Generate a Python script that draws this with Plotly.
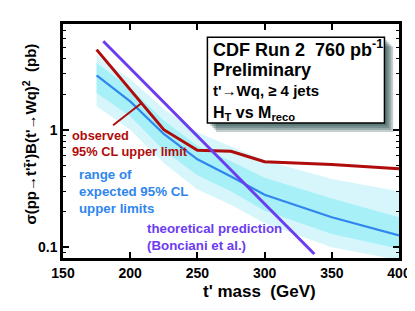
import plotly.graph_objects as go

# ---- data ----
mass = [175, 200, 225, 250, 275, 300, 350, 400]
observed = [4.8, 2.2, 1.0, 0.67, 0.655, 0.535, 0.505, 0.465]
expected = [2.9, 1.74, 0.92, 0.56, 0.40, 0.28, 0.18, 0.126]
exp_1s_up = [3.7, 2.25, 1.2, 0.73, 0.54, 0.39, 0.26, 0.18]
exp_1s_dn = [2.05, 1.3, 0.67, 0.41, 0.30, 0.205, 0.13, 0.097]
exp_2s_up = [4.3, 2.7, 1.5, 0.95, 0.72, 0.55, 0.38, 0.30]
exp_2s_dn = [1.58, 1.0, 0.52, 0.31, 0.23, 0.16, 0.10, 0.078]
mass_th = [180, 200, 225, 250, 275, 300, 325, 337]
theory = [5.65, 3.33, 1.71, 0.88, 0.454, 0.234, 0.12, 0.0877]
x_ticks = [150, 200, 250, 300, 350, 400]

W, H = 415, 311
L, R, T, B = 55, 13.3, 16, 61
PW, PH = W - L - R, H - T - B


def px(x):
    return (x - L) / PW


def py(y):
    return (H - B - y) / PH


RED = "#b00c0c"
BLUE = "#2f86ee"
PURPLE = "#6c3cf0"
INNER = "#a8f0f8"
OUTER = "#d6f6fb"
FONT = "Liberation Sans"

fig = go.Figure()
fig.add_trace(go.Scatter(x=mass, y=exp_2s_dn, mode="lines", line=dict(width=0),
                         hoverinfo="skip", showlegend=False))
fig.add_trace(go.Scatter(x=mass, y=exp_2s_up, mode="lines", line=dict(width=0),
                         fill="tonexty", fillcolor=OUTER, showlegend=False))
fig.add_trace(go.Scatter(x=mass, y=exp_1s_dn, mode="lines", line=dict(width=0),
                         hoverinfo="skip", showlegend=False))
fig.add_trace(go.Scatter(x=mass, y=exp_1s_up, mode="lines", line=dict(width=0),
                         fill="tonexty", fillcolor=INNER, showlegend=False))
fig.add_trace(go.Scatter(x=mass, y=expected, mode="lines",
                         line=dict(color=BLUE, width=2.2), showlegend=False))
fig.add_trace(go.Scatter(x=mass, y=observed, mode="lines",
                         line=dict(color=RED, width=3), showlegend=False))
fig.add_trace(go.Scatter(x=mass_th, y=theory, mode="lines",
                         line=dict(color=PURPLE, width=3), showlegend=False))

shapes = []
# info box shadow
bx0, bx1, by0, by1 = 204, 386.7, 29.3, 115
for off in (9, 7, 5, 3):
    shapes.append(dict(type="rect", xref="paper", yref="paper",
                       x0=px(bx0 + off), x1=px(bx1 + off),
                       y0=py(by1 + off), y1=py(by0 + off),
                       fillcolor="rgba(25,65,65,0.25)", line=dict(width=0)))
shapes.append(dict(type="rect", xref="paper", yref="paper",
                   x0=px(bx0), x1=px(bx1), y0=py(by1), y1=py(by0),
                   fillcolor="white", line=dict(color="black", width=1.5)))
# pointer line for observed label
shapes.append(dict(type="line", xref="paper", yref="paper",
                   x0=px(106.7), y0=py(117.3), x1=px(135.5), y1=py(95.5),
                   line=dict(color=RED, width=2)))

ann = []


def text(t, x, y, size, color="black", xanchor="left", angle=0):
    ann.append(dict(text=t, x=px(x), y=py(y), xref="paper", yref="paper",
                    xanchor=xanchor, yanchor="middle", showarrow=False,
                    textangle=angle,
                    font=dict(family=FONT, size=size, color=color, weight="bold")))


text("CDF Run 2\u00a0\u00a0760 pb<sup>-1</sup>", 208, 41, 18)
text("Preliminary", 208, 62, 18)
text("t'\u2192Wq, \u2265 4 jets", 208, 82, 15)
text("H<sub>T</sub> vs M<sub>reco</sub>", 208, 105, 16)

text("observed", 62, 127, 12.8, RED)
text("95% CL upper limit", 62, 143, 12.8, RED)
text("range of", 69, 166, 13.3, BLUE)
text("expected 95% CL", 69, 183, 13.3, BLUE)
text("upper limits", 69, 200, 13.3, BLUE)
text("theoretical prediction", 140, 220, 13.3, PURPLE)
text("(Bonciani et al.)", 140, 237, 13.3, PURPLE)

text("t' mass\u00a0\u00a0(GeV)", 257.5, 283, 17, xanchor="center")
text("\u03c3(pp\u2192t't\u0304')B(t'\u2192Wq)<sup>2</sup>\u00a0\u00a0(pb)", 20, 126.5, 15,
     xanchor="center", angle=-90)

fig.update_layout(
    width=W, height=H,
    margin=dict(l=L, r=R, t=T, b=B),
    plot_bgcolor="white", paper_bgcolor="white",
    showlegend=False,
    shapes=shapes, annotations=ann,
    xaxis=dict(range=[150, 400], tickvals=x_ticks, ticks="inside", ticklen=6,
               tickwidth=1.5, tickcolor="black", showline=True, linecolor="black",
               linewidth=2.5, mirror="allticks", showgrid=False, zeroline=False,
               tickfont=dict(family=FONT, size=14, color="black", weight="bold")),
    yaxis=dict(type="log", range=[-1.091, 0.899], dtick=1, ticks="inside", ticklen=6,
               tickwidth=1.5, tickcolor="black", showline=True, linecolor="black",
               linewidth=2.5, mirror="allticks", showgrid=False, zeroline=False,
               minor=dict(ticks="inside", ticklen=3, tickcolor="black", tickwidth=1.2,
                          showgrid=False),
               tickfont=dict(family=FONT, size=14, color="black", weight="bold")),
)

fig.write_html("out.html")
